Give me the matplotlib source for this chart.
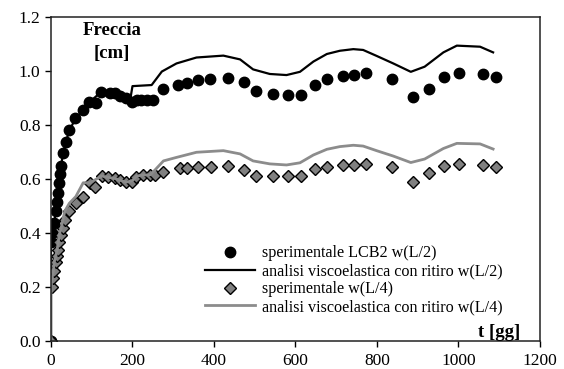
import matplotlib.pyplot as plt

plt.rcParams['font.family'] = 'Liberation Serif'

# sperimentale LCB2 w(L/2)
t_exp_mid = [0, 0, 3, 8, 12, 15, 18, 20, 22, 25, 30, 37, 45, 59, 79, 94, 110, 123,
             145, 157, 169, 184, 198, 210, 222, 235, 251, 276, 312, 333, 361, 390,
             434, 474, 503, 545, 582, 613, 648, 678, 716, 744, 773, 838, 889, 928,
             965, 1001, 1061, 1092]
w_exp_mid = [0.0, 0.368, 0.40, 0.437, 0.48, 0.516, 0.548, 0.585, 0.62, 0.65, 0.695,
             0.738, 0.78, 0.825, 0.855, 0.886, 0.88, 0.923, 0.917, 0.917, 0.909,
             0.899, 0.886, 0.893, 0.893, 0.893, 0.893, 0.932, 0.948, 0.954, 0.968,
             0.970, 0.973, 0.960, 0.926, 0.914, 0.910, 0.911, 0.950, 0.970, 0.982,
             0.985, 0.991, 0.969, 0.902, 0.935, 0.976, 0.991, 0.989, 0.976]

# analisi viscoelastica con ritiro w(L/2)
t_mod_mid = [0, 0, 3, 8, 12, 15, 18, 22, 30, 37, 45, 59, 79, 94, 110, 123, 145, 169,
             184, 194, 200, 247, 272, 308, 357, 423, 464, 496, 537, 578, 611, 644,
             677, 709, 742, 766, 799, 840, 883, 917, 963, 996, 1053, 1085]
w_mod_mid = [0.0, 0.36, 0.40, 0.44, 0.48, 0.52, 0.55, 0.62, 0.70, 0.74, 0.78, 0.82,
             0.855, 0.886, 0.905, 0.925, 0.915, 0.905, 0.898, 0.89, 0.944, 0.948,
             0.998, 1.028, 1.050, 1.057, 1.043, 1.006, 0.989, 0.985, 0.997, 1.035,
             1.063, 1.075, 1.081, 1.078, 1.056, 1.028, 0.997, 1.016, 1.069, 1.094,
             1.090, 1.069]

# sperimentale w(L/4)
t_exp_q = [0, 3, 6, 8, 12, 15, 18, 20, 25, 29, 34, 45, 61, 79, 96, 108, 124, 141,
           157, 169, 184, 200, 208, 227, 243, 255, 276, 317, 333, 361, 392, 434,
           474, 503, 545, 582, 613, 648, 678, 716, 744, 773, 838, 889, 928, 965,
           1001, 1061, 1092]
w_exp_q = [0.0, 0.20, 0.235, 0.26, 0.294, 0.315, 0.337, 0.368, 0.393, 0.417, 0.448,
           0.481, 0.51, 0.535, 0.586, 0.569, 0.611, 0.606, 0.602, 0.596, 0.588,
           0.590, 0.609, 0.615, 0.615, 0.613, 0.627, 0.639, 0.639, 0.646, 0.646,
           0.648, 0.633, 0.611, 0.612, 0.612, 0.612, 0.636, 0.646, 0.652, 0.652,
           0.656, 0.646, 0.590, 0.621, 0.650, 0.656, 0.652, 0.646]

# analisi viscoelastica con ritiro w(L/4)
t_mod_q = [0, 0, 3, 6, 8, 12, 15, 18, 20, 25, 29, 34, 45, 61, 79, 96, 124, 141,
           157, 169, 184, 200, 210, 227, 243, 255, 276, 308, 357, 423, 464, 496,
           537, 578, 611, 644, 677, 709, 742, 766, 799, 840, 883, 917, 963, 996,
           1053, 1085]
w_mod_q = [0.0, 0.20, 0.235, 0.26, 0.294, 0.315, 0.337, 0.368, 0.393, 0.417, 0.448,
           0.481, 0.51, 0.535, 0.586, 0.586, 0.611, 0.606, 0.602, 0.596, 0.588,
           0.594, 0.611, 0.615, 0.615, 0.633, 0.667, 0.680, 0.699, 0.705, 0.693,
           0.667, 0.656, 0.652, 0.660, 0.689, 0.710, 0.720, 0.725, 0.722, 0.705,
           0.685, 0.661, 0.674, 0.713, 0.732, 0.730, 0.711]

fig = plt.figure(figsize=(5.64, 3.69), dpi=100)
ax = fig.add_axes([0.0904, 0.0759, 0.867, 0.878])

ax.plot(t_exp_mid, w_exp_mid, 'o', color='black', markersize=7.5,
        label='sperimentale LCB2 w(L/2)')
ax.plot(t_mod_mid, w_mod_mid, '-', color='black', linewidth=1.6,
        label='analisi viscoelastica con ritiro w(L/2)')
ax.plot(t_exp_q, w_exp_q, 'D', color='#808080', markeredgecolor='black',
        markeredgewidth=1.0, markersize=5.8, label='sperimentale w(L/4)')
ax.plot(t_mod_q, w_mod_q, '-', color='#8c8c8c', linewidth=2,
        label='analisi viscoelastica con ritiro w(L/4)')

ax.set_xlim(0, 1200)
ax.set_ylim(0, 1.2)
ax.set_xticks(range(0, 1201, 200))
ax.set_yticks([0, 0.2, 0.4, 0.6, 0.8, 1.0, 1.2])
ax.set_yticklabels(['%.1f' % v for v in ax.get_yticks()])
ax.tick_params(labelsize=12.5, direction='out', length=4, width=1,
               top=False, right=False)
ax.tick_params(axis='x', pad=5)
for s in ax.spines.values():
    s.set_linewidth(1.1)
    s.set_color('#222222')

ax.text(0.125, 0.985, 'Freccia\n[cm]', transform=ax.transAxes, ha='center',
        va='top', fontsize=13.5, fontweight='bold', linespacing=1.45)
ax.text(0.916, 0.0, 't [gg]', transform=ax.transAxes, ha='center',
        va='bottom', fontsize=13.5, fontweight='bold')

ax.legend(loc='lower right', bbox_to_anchor=(0.94, 0.055), frameon=False,
          fontsize=11.6, handlelength=3.1, handletextpad=0.45, labelspacing=0.12,
          borderpad=0)

fig.savefig('out.png', dpi=100)
